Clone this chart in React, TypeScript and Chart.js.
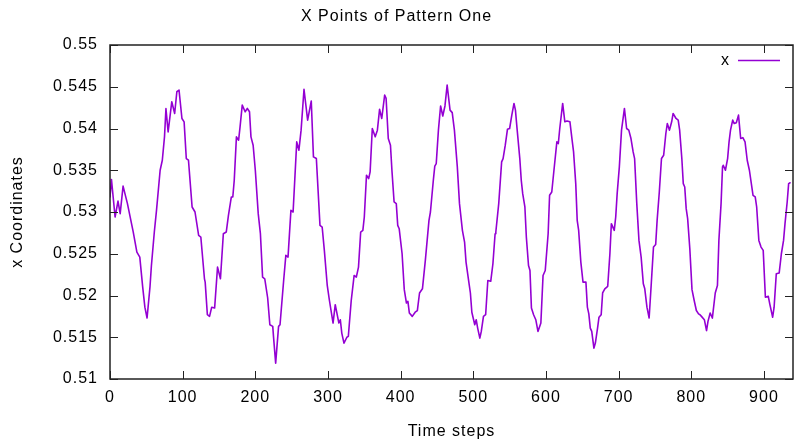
import React, { useEffect, useRef } from "react";
import { Chart, registerables } from "chart.js";

Chart.register(...registerables);

const chartTitle = "X Points of Pattern One";
const xAxisTitle = "Time steps";
const yAxisTitle = "x Coordinates";
const seriesLabel = "x";
const xTickStep = 100;
const yTickStep = 0.005;

const timeSteps: number[] = [
  0, 2, 7, 11, 14, 18, 24, 32, 37, 41, 45, 48, 51, 55, 57, 61, 64, 69, 72, 75, 77, 80, 85, 89, 92, 95, 99,
  102, 105, 108, 113, 117, 122, 125, 130, 131, 134, 137, 140, 144, 148, 152, 156, 160, 163, 167, 169, 171,
  174, 177, 179, 182, 186, 189, 192, 194, 197, 200, 204, 207, 210, 213, 217, 220, 224, 225, 228, 232, 234,
  239, 242, 245, 249, 252, 257, 260, 263, 267, 272, 277, 280, 284, 289, 292, 295, 299, 302, 307, 310, 315,
  317, 319, 322, 326, 328, 332, 336, 339, 342, 345, 348, 350, 353, 356, 358, 361, 365, 368, 371, 374, 378,
  380, 383, 386, 388, 391, 394, 396, 398, 402, 405, 408, 410, 412, 416, 420, 423, 426, 430, 434, 439, 441,
  445, 447, 449, 452, 455, 458, 461, 464, 468, 471, 474, 478, 481, 485, 488, 490, 494, 496, 498, 502, 504,
  506, 509, 511, 514, 517, 520, 524, 527, 530, 531, 535, 539, 541, 544, 547, 550, 553, 556, 558, 560, 564,
  566, 568, 571, 573, 576, 578, 580, 583, 586, 589, 593, 596, 599, 603, 605, 608, 611, 615, 617, 619, 623,
  626, 629, 633, 636, 638, 641, 643, 645, 648, 651, 655, 657, 659, 661, 663, 666, 668, 671, 673, 676, 678,
  681, 685, 688, 690, 694, 696, 698, 701, 704, 708, 711, 714, 717, 720, 722, 725, 728, 731, 734, 736, 739,
  742, 745, 748, 751, 753, 756, 759, 762, 765, 767, 770, 773, 775, 779, 782, 784, 787, 789, 791, 793, 795,
  798, 801, 804, 807, 810, 812, 814, 818, 821, 823, 826, 829, 833, 836, 838, 841, 843, 844, 847, 850, 852,
  854, 857, 859, 862, 865, 868, 871, 874, 877, 880, 885, 888, 890, 893, 896, 899, 902, 906, 908, 912, 914,
  917, 921, 924, 927, 929, 932, 934, 936,
];

const xValues: number[] = [
  0.5318, 0.5339, 0.5294, 0.5313, 0.5298, 0.5331, 0.531, 0.5276, 0.5252, 0.5246, 0.521, 0.5186, 0.5173,
  0.521, 0.5236, 0.5276, 0.5302, 0.535, 0.5362, 0.539, 0.5424, 0.5396, 0.5432, 0.5418, 0.5444, 0.5446,
  0.5412, 0.5408, 0.5364, 0.5362, 0.5306, 0.53, 0.5272, 0.527, 0.522, 0.5216, 0.5177, 0.5175, 0.5186,
  0.5185, 0.5234, 0.522, 0.5274, 0.5276, 0.5296, 0.5318, 0.5318, 0.5338, 0.539, 0.5386, 0.5402, 0.5428,
  0.542, 0.5424, 0.542, 0.539, 0.538, 0.535, 0.5298, 0.5274, 0.5222, 0.522, 0.5197, 0.5165, 0.5163,
  0.5151, 0.5119, 0.5163, 0.5165, 0.5218, 0.5248, 0.5246, 0.5302, 0.53, 0.5384, 0.5374, 0.5398, 0.5447,
  0.541, 0.5433, 0.5366, 0.5364, 0.5284, 0.5282, 0.5254, 0.5212, 0.5194, 0.5167, 0.5189, 0.5167, 0.5171,
  0.5155, 0.5143, 0.515, 0.5151, 0.5194, 0.5224, 0.5222, 0.5234, 0.5276, 0.5278, 0.5294, 0.5344, 0.534,
  0.5348, 0.54, 0.539, 0.5398, 0.5423, 0.5412, 0.544, 0.5436, 0.5388, 0.538, 0.535, 0.5312, 0.531, 0.5284,
  0.528, 0.525, 0.5207, 0.5191, 0.5193, 0.5179, 0.5175, 0.518, 0.5182, 0.5203, 0.5208, 0.5242, 0.529, 0.53,
  0.5338, 0.5355, 0.5358, 0.5398, 0.5427, 0.5415, 0.5427, 0.5452, 0.5422, 0.5419, 0.5398, 0.5354, 0.531,
  0.5278, 0.5264, 0.524, 0.5215, 0.5203, 0.518, 0.5165, 0.5171, 0.5161, 0.5149, 0.5157, 0.5175, 0.5177,
  0.5218, 0.5217, 0.5238, 0.5274, 0.5276, 0.531, 0.536, 0.5364, 0.538, 0.5399, 0.54, 0.5416, 0.543, 0.5422,
  0.5402, 0.5364, 0.5338, 0.5322, 0.5306, 0.527, 0.5236, 0.523, 0.5185, 0.5177, 0.5171, 0.5157, 0.5167,
  0.5224, 0.523, 0.5274, 0.532, 0.5324, 0.535, 0.5384, 0.5382, 0.54, 0.543, 0.5408, 0.5409, 0.5408, 0.5386,
  0.5372, 0.5334, 0.529, 0.5278, 0.524, 0.5216, 0.5216, 0.5186, 0.5178, 0.5161, 0.5157, 0.5137, 0.5143,
  0.5161, 0.5174, 0.5177, 0.5203, 0.5208, 0.5211, 0.525, 0.5286, 0.5278, 0.5294, 0.5322, 0.5354, 0.5398,
  0.5424, 0.54, 0.5398, 0.5388, 0.5372, 0.5364, 0.531, 0.5266, 0.5246, 0.5214, 0.5208, 0.5186, 0.5173,
  0.5215, 0.5258, 0.5261, 0.529, 0.5324, 0.5364, 0.5368, 0.5394, 0.5406, 0.5398, 0.5408, 0.5418, 0.5412,
  0.541, 0.5398, 0.5364, 0.5334, 0.533, 0.5304, 0.5292, 0.5256, 0.5207, 0.5194, 0.5182, 0.5178, 0.5177,
  0.5175, 0.5171, 0.5158, 0.5169, 0.5179, 0.5173, 0.5203, 0.5212, 0.5266, 0.531, 0.5354, 0.5356, 0.535,
  0.5364, 0.5384, 0.5398, 0.541, 0.5406, 0.5407, 0.5416, 0.5388, 0.5389, 0.5384, 0.5362, 0.535, 0.532,
  0.5318, 0.5306, 0.5266, 0.5258, 0.5254, 0.5198, 0.5199, 0.519, 0.5174, 0.5186, 0.5226, 0.5227, 0.525,
  0.5266, 0.5286, 0.5312, 0.5334, 0.5335,
];

const FONT_FAMILY = '"Liberation Sans", Arial, Helvetica, sans-serif';
const FONT_SIZE = 16;
const LINE_COLOR = "#9400d3";

const gnuplotFrame = {
  id: "gnuplotFrame",
  beforeUpdate(chart: any) {
    chart.ctx.letterSpacing = "1px";
  },
  beforeDraw(chart: any) {
    chart.ctx.letterSpacing = "1px";
  },
  afterDraw(chart: any) {
    const { ctx, chartArea } = chart;
    const { left, right, top, bottom } = chartArea;
    const xs = chart.scales.x;
    const ys = chart.scales.y;
    const tick = 8;
    ctx.save();
    ctx.strokeStyle = "#222";
    ctx.lineWidth = 1;
    ctx.beginPath();
    for (const t of xs.ticks) {
      const px = Math.round(xs.getPixelForValue(t.value)) + 0.5;
      ctx.moveTo(px, bottom);
      ctx.lineTo(px, bottom - tick);
      ctx.moveTo(px, top);
      ctx.lineTo(px, top + tick);
    }
    for (const t of ys.ticks) {
      const py = Math.round(ys.getPixelForValue(t.value)) + 0.5;
      ctx.moveTo(left, py);
      ctx.lineTo(left + tick, py);
      ctx.moveTo(right, py);
      ctx.lineTo(right - tick, py);
    }
    ctx.stroke();
    ctx.lineWidth = 1.5;
    ctx.strokeRect(left, top, right - left, bottom - top);

    // legend (gnuplot style, inside the top-right corner)
    ctx.letterSpacing = "1px";
    ctx.font = `${FONT_SIZE}px ${FONT_FAMILY}`;
    ctx.fillStyle = "#000";
    ctx.textAlign = "right";
    ctx.textBaseline = "middle";
    const ly = top + 16;
    ctx.fillText(chart.data.datasets[0].label, right - 63, ly);
    ctx.strokeStyle = LINE_COLOR;
    ctx.lineWidth = 1.5;
    ctx.beginPath();
    ctx.moveTo(right - 55, ly - 0.5);
    ctx.lineTo(right - 13, ly - 0.5);
    ctx.stroke();
    ctx.restore();
  },
};

export default function App() {
  const canvasRef = useRef<HTMLCanvasElement | null>(null);

  useEffect(() => {
    document.body.style.margin = "0";
    const canvas = canvasRef.current;
    if (!canvas) return;
    const points = timeSteps.map((t, i) => ({ x: t, y: xValues[i] }));
    const chart = new Chart(canvas, {
      type: "line",
      data: {
        datasets: [
          {
            label: seriesLabel,
            data: points,
            borderColor: LINE_COLOR,
            backgroundColor: LINE_COLOR,
            borderWidth: 1.6,
            borderJoinStyle: "round",
            borderCapStyle: "round",
            pointRadius: 0,
            tension: 0,
            fill: false,
          },
        ],
      },
      options: {
        animation: false,
        responsive: false,
        devicePixelRatio: 1,
        layout: { padding: { left: 0, right: 2, top: 0, bottom: 0 } },
        plugins: {
          legend: { display: false },
          tooltip: { enabled: false },
          title: {
            display: true,
            text: chartTitle,
            color: "#000",
            font: { family: FONT_FAMILY, size: FONT_SIZE, weight: "normal" },
            padding: { top: 7, bottom: 18.8 },
          },
        },
        scales: {
          x: {
            type: "linear",
            min: 0,
            max: 940,
            afterFit: (s: any) => {
              s.height = 62;
            },
            ticks: {
              stepSize: xTickStep,
              includeBounds: false,
              color: "#000",
              padding: 9,
              font: { family: FONT_FAMILY, size: FONT_SIZE },
              maxRotation: 0,
            },
            grid: { display: false, drawTicks: false },
            border: { display: false },
            title: {
              display: true,
              text: xAxisTitle,
              color: "#000",
              font: { family: FONT_FAMILY, size: FONT_SIZE },
              padding: { top: 4.4, bottom: 0 },
            },
          },
          y: {
            type: "linear",
            min: 0.51,
            max: 0.55,
            afterFit: (s: any) => {
              s.width = 110;
            },
            ticks: {
              stepSize: yTickStep,
              includeBounds: false,
              color: "#000",
              padding: 12,
              font: { family: FONT_FAMILY, size: FONT_SIZE },
              callback: (v: any) => String(Number(Number(v).toFixed(3))),
            },
            grid: { display: false, drawTicks: false },
            border: { display: false },
            title: {
              display: true,
              text: yAxisTitle,
              color: "#000",
              font: { family: FONT_FAMILY, size: FONT_SIZE },
              padding: { top: 8.4, bottom: 0 },
            },
          },
        },
      },
      plugins: [gnuplotFrame],
    });
    return () => chart.destroy();
  }, []);

  return (
    <div style={{ width: 795, height: 441 }}>
      <canvas ref={canvasRef} width={795} height={441} style={{ display: "block" }} />
    </div>
  );
}
